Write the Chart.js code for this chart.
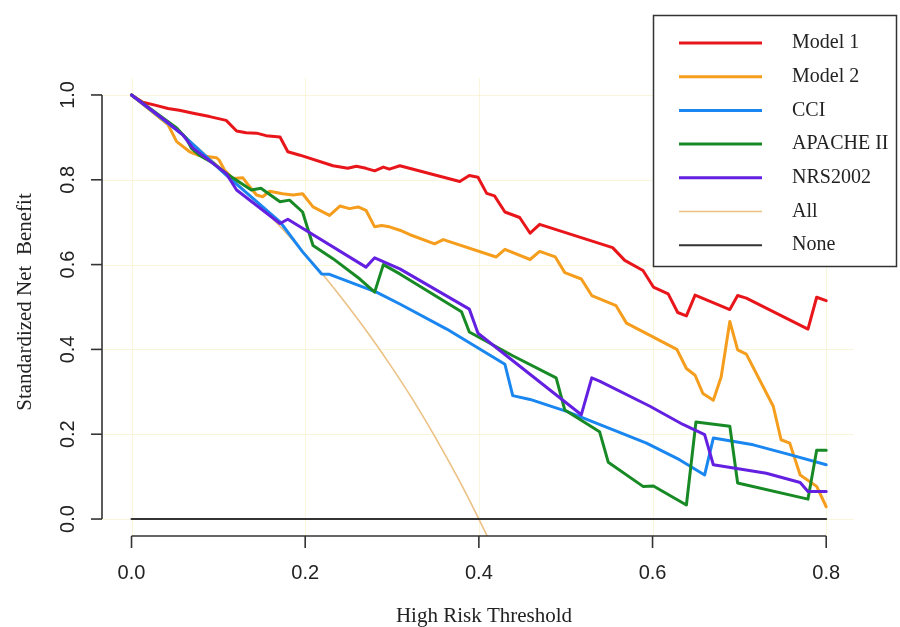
<!DOCTYPE html>
<html>
<head>
<meta charset="utf-8">
<script src="https://cdn.jsdelivr.net/npm/chart.js@4/dist/chart.umd.min.js"></script>
<style>
  html, body { margin: 0; padding: 0; background: #fff; }
  #chart { display: block; }
</style>
</head>
<body>
<canvas id="chart" width="900" height="627"></canvas>
<script>
// Dados (limiar x, benefício líquido padronizado y)
const model1X = [0, 0.013, 0.027, 0.042, 0.055, 0.071, 0.090, 0.109, 0.121, 0.132, 0.144, 0.155, 0.171, 0.180, 0.194, 0.232, 0.249, 0.259, 0.270, 0.280, 0.290, 0.297, 0.309, 0.378, 0.389, 0.399, 0.409, 0.418, 0.430, 0.447, 0.459, 0.470, 0.554, 0.568, 0.589, 0.601, 0.618, 0.629, 0.639, 0.649, 0.689, 0.698, 0.708, 0.779, 0.789, 0.800];
const model1Y = [1.000, 0.983, 0.976, 0.968, 0.964, 0.957, 0.949, 0.940, 0.915, 0.911, 0.910, 0.904, 0.901, 0.866, 0.858, 0.833, 0.827, 0.832, 0.827, 0.821, 0.830, 0.825, 0.833, 0.796, 0.810, 0.806, 0.768, 0.762, 0.724, 0.711, 0.674, 0.695, 0.640, 0.610, 0.586, 0.547, 0.531, 0.487, 0.479, 0.528, 0.494, 0.527, 0.521, 0.448, 0.523, 0.515];

const model2X = [0, 0.042, 0.052, 0.067, 0.078, 0.098, 0.101, 0.107, 0.117, 0.128, 0.134, 0.144, 0.151, 0.159, 0.174, 0.186, 0.197, 0.209, 0.228, 0.240, 0.251, 0.261, 0.270, 0.280, 0.288, 0.297, 0.309, 0.320, 0.349, 0.359, 0.420, 0.430, 0.459, 0.470, 0.488, 0.499, 0.518, 0.530, 0.558, 0.570, 0.628, 0.639, 0.649, 0.658, 0.670, 0.679, 0.689, 0.698, 0.708, 0.739, 0.748, 0.758, 0.770, 0.789, 0.800];
const model2Y = [1.000, 0.930, 0.890, 0.866, 0.857, 0.852, 0.846, 0.823, 0.803, 0.805, 0.789, 0.764, 0.760, 0.773, 0.767, 0.764, 0.767, 0.736, 0.716, 0.738, 0.732, 0.736, 0.728, 0.689, 0.692, 0.689, 0.681, 0.671, 0.649, 0.659, 0.618, 0.636, 0.612, 0.631, 0.618, 0.581, 0.566, 0.527, 0.503, 0.462, 0.400, 0.355, 0.339, 0.296, 0.280, 0.335, 0.466, 0.399, 0.389, 0.266, 0.187, 0.179, 0.104, 0.077, 0.029];

const cciX = [0, 0.059, 0.109, 0.171, 0.197, 0.219, 0.228, 0.282, 0.309, 0.363, 0.430, 0.439, 0.459, 0.501, 0.554, 0.593, 0.631, 0.660, 0.670, 0.716, 0.758, 0.800];
const cciY = [1.000, 0.906, 0.811, 0.701, 0.630, 0.578, 0.577, 0.535, 0.507, 0.448, 0.365, 0.291, 0.282, 0.254, 0.211, 0.179, 0.140, 0.104, 0.191, 0.175, 0.152, 0.128];

const apacheX = [0, 0.052, 0.063, 0.069, 0.078, 0.094, 0.109, 0.124, 0.138, 0.149, 0.171, 0.182, 0.197, 0.209, 0.232, 0.263, 0.280, 0.290, 0.309, 0.380, 0.389, 0.439, 0.489, 0.499, 0.539, 0.549, 0.589, 0.601, 0.639, 0.650, 0.689, 0.698, 0.779, 0.789, 0.800];
const apacheY = [1.000, 0.922, 0.898, 0.874, 0.858, 0.839, 0.815, 0.795, 0.776, 0.780, 0.748, 0.752, 0.724, 0.645, 0.614, 0.566, 0.535, 0.600, 0.578, 0.489, 0.441, 0.385, 0.333, 0.257, 0.206, 0.134, 0.077, 0.078, 0.033, 0.229, 0.219, 0.085, 0.047, 0.162, 0.162];

const nrsX = [0, 0.040, 0.059, 0.071, 0.109, 0.121, 0.171, 0.180, 0.270, 0.280, 0.309, 0.389, 0.399, 0.518, 0.530, 0.539, 0.597, 0.635, 0.660, 0.670, 0.731, 0.770, 0.779, 0.800];
const nrsY = [1.000, 0.938, 0.906, 0.874, 0.815, 0.776, 0.697, 0.707, 0.594, 0.616, 0.590, 0.495, 0.438, 0.246, 0.333, 0.325, 0.266, 0.223, 0.199, 0.128, 0.108, 0.086, 0.065, 0.065];

const allX = [0, 0.05, 0.10, 0.15, 0.20, 0.225, 0.25, 0.275, 0.30, 0.325, 0.35, 0.375, 0.39, 0.40, 0.41];
const allY = [1.000, 0.921, 0.833, 0.735, 0.625, 0.565, 0.500, 0.431, 0.357, 0.278, 0.192, 0.100, 0.041, 0.000, -0.042];

const noneX = [0, 0.8];
const noneY = [0, 0];

const legendLabels = ['Model 1', 'Model 2', 'CCI', 'APACHE II', 'NRS2002', 'All', 'None'];
const xTicks = [0, 0.2, 0.4, 0.6, 0.8];
const yTicks = [0, 0.2, 0.4, 0.6, 0.8, 1.0];

const cores = ['#e8161b', '#f59d1c', '#1a86f0', '#178a26', '#6420e0', '#ecc184', '#333333'];
const larguras = [3, 3, 3, 3, 3, 1.6, 2];
const ordem = [6, 5, 4, 3, 2, 9, 1];

const pontos = (xs, ys) => xs.map((x, i) => ({ x: x, y: ys[i] }));
const series = [
  pontos(model1X, model1Y), pontos(model2X, model2Y), pontos(cciX, cciY),
  pontos(apacheX, apacheY), pontos(nrsX, nrsY), pontos(allX, allY), pontos(noneX, noneY)
];

// Eixos, grade, títulos e legenda no estilo R
const estiloR = {
  id: 'estiloR',
  beforeDatasetsDraw(chart) {
    const { ctx, chartArea: a, scales: { x, y } } = chart;
    ctx.save();
    ctx.strokeStyle = 'rgba(245,238,190,0.55)';
    ctx.lineWidth = 1;
    xTicks.forEach(t => {
      const px = Math.round(x.getPixelForValue(t)) + 0.5;
      ctx.beginPath(); ctx.moveTo(px, a.top); ctx.lineTo(px, a.bottom); ctx.stroke();
    });
    yTicks.forEach(t => {
      const py = Math.round(y.getPixelForValue(t)) + 0.5;
      ctx.beginPath(); ctx.moveTo(a.left, py); ctx.lineTo(a.right, py); ctx.stroke();
    });
    ctx.restore();
  },
  afterDraw(chart) {
    const { ctx, chartArea: a, scales: { x, y } } = chart;
    ctx.save();
    ctx.strokeStyle = '#333';
    ctx.fillStyle = '#222';
    ctx.lineWidth = 1.6;

    // eixo y
    ctx.beginPath();
    ctx.moveTo(a.left, y.getPixelForValue(0));
    ctx.lineTo(a.left, y.getPixelForValue(1));
    ctx.stroke();
    ctx.font = '20px "Liberation Sans", Arial, sans-serif';
    ctx.textAlign = 'center';
    ctx.textBaseline = 'middle';
    yTicks.forEach(t => {
      const py = y.getPixelForValue(t);
      ctx.beginPath(); ctx.moveTo(a.left - 11, py); ctx.lineTo(a.left, py); ctx.stroke();
      ctx.save();
      ctx.translate(68, py);
      ctx.rotate(-Math.PI / 2);
      ctx.fillText(t.toFixed(1), 0, 0);
      ctx.restore();
    });

    // eixo x
    ctx.beginPath();
    ctx.moveTo(x.getPixelForValue(0), a.bottom);
    ctx.lineTo(x.getPixelForValue(0.8), a.bottom);
    ctx.stroke();
    xTicks.forEach(t => {
      const px = x.getPixelForValue(t);
      ctx.beginPath(); ctx.moveTo(px, a.bottom); ctx.lineTo(px, a.bottom + 12); ctx.stroke();
      ctx.fillText(t.toFixed(1), px, 573);
    });

    // títulos
    ctx.font = '21px "Liberation Serif", "Times New Roman", serif';
    ctx.fillText('High Risk Threshold', 484, 616);
    ctx.save();
    ctx.translate(25, 302);
    ctx.rotate(-Math.PI / 2);
    ctx.fillText('Standardized Net  Benefit', 0, 0);
    ctx.restore();

    // legenda
    ctx.fillStyle = '#fff';
    ctx.fillRect(653, 15, 244, 252);
    ctx.strokeStyle = '#333';
    ctx.lineWidth = 1.5;
    ctx.strokeRect(653.5, 15.5, 243, 251);
    ctx.font = '20px "Liberation Serif", "Times New Roman", serif';
    ctx.textAlign = 'left';
    ctx.fillStyle = '#222';
    legendLabels.forEach((lab, i) => {
      const ly = 43 + i * 33.7;
      ctx.strokeStyle = cores[i];
      ctx.lineWidth = larguras[i];
      ctx.beginPath(); ctx.moveTo(679, ly); ctx.lineTo(762, ly); ctx.stroke();
      ctx.fillText(lab, 792, ly);
    });
    ctx.restore();
  }
};

new Chart(document.getElementById('chart'), {
  type: 'line',
  data: {
    datasets: series.map((d, i) => ({
      label: legendLabels[i],
      data: d,
      borderColor: cores[i],
      borderWidth: larguras[i],
      pointRadius: 0,
      tension: 0,
      cubicInterpolationMode: i === 5 ? 'monotone' : 'default',
      fill: false,
      borderJoinStyle: 'round',
      borderCapStyle: 'round',
      order: ordem[i]
    }))
  },
  options: {
    responsive: false,
    animation: false,
    devicePixelRatio: 1,
    layout: { padding: { left: 102, right: 46, top: 78, bottom: 91 } },
    plugins: { legend: { display: false }, tooltip: { enabled: false } },
    scales: {
      x: { type: 'linear', min: -0.034, max: 0.832, display: false },
      y: { type: 'linear', min: -0.04, max: 1.04, display: false }
    }
  },
  plugins: [estiloR]
});
</script>
</body>
</html>
